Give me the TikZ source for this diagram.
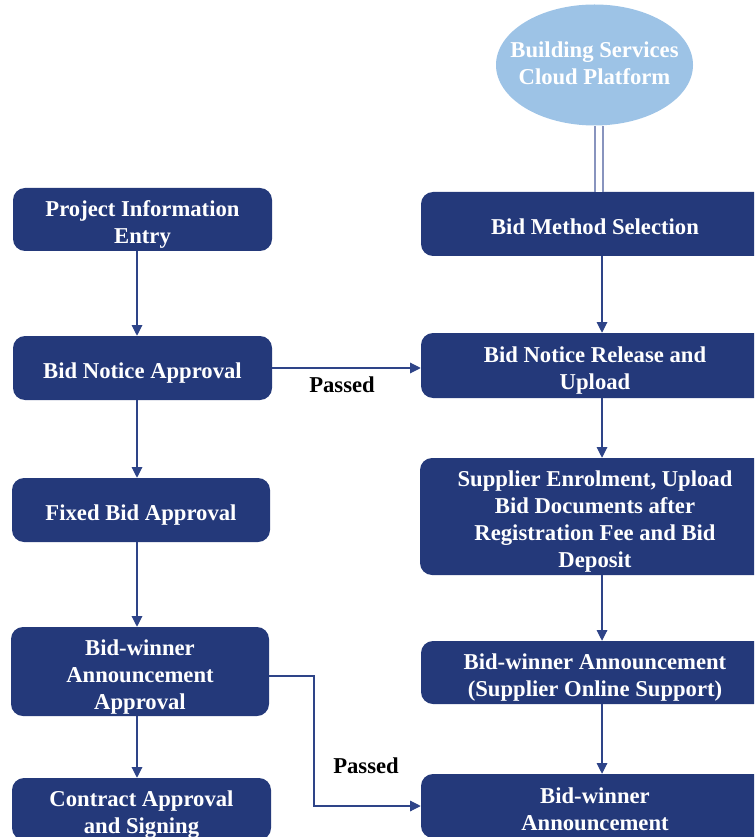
\documentclass[tikz,border=0pt]{standalone}
\usepackage{fontspec}
\setmainfont{Liberation Serif}
\usetikzlibrary{arrows.meta,shapes.geometric,calc}
\definecolor{navy}{RGB}{36,57,122}
\definecolor{skyblue}{RGB}{157,195,230}
\definecolor{linkblue}{RGB}{46,68,136}
\definecolor{dblgrey}{RGB}{136,148,190}
\newcommand{\mytopstrut}{\rule{0pt}{20pt}}
\newcommand{\mybotstrut}{\rule[-4pt]{0pt}{4pt}}
\tikzset{
  box/.style={rectangle, rounded corners=9pt, fill=navy, draw=none, text=white,
    align=center, inner xsep=2pt, inner ysep=0pt, font=\bfseries\fontsize{17}{20.25}\selectfont},
  leftbox/.style={box, minimum width=194.25pt},
  rightbox/.style={box, minimum width=261pt},
  cloud/.style={ellipse, fill=skyblue, draw=none, inner sep=0pt,
    minimum width=147.75pt, minimum height=90.75pt},
  cloudtext/.style={text=white, align=center, inner sep=0pt, font=\bfseries\fontsize{17}{20.25}\selectfont},
  link/.style={draw=linkblue, line width=0.8pt, -{Triangle[width=8pt,length=8pt]}},
  dbl/.style={draw=dblgrey, line width=0.9pt, double=white, double distance=5.1pt},
  lbl/.style={text=black, font=\bfseries\fontsize{17}{20.25}\selectfont, inner sep=0pt}
}
\begin{document}
\begin{tikzpicture}[x=0.75pt,y=-0.75pt]
\useasboundingbox (0,0) rectangle (754,837);
\clip (0,0) rectangle (754,837);
\coordinate (colL) at (137,0);
\coordinate (colR) at (602,0);
% left column
\node[leftbox, minimum height=47.25pt] (pie) at (142.5,219.5) {\mytopstrut Project Information\\Entry\mybotstrut};
\node[leftbox, minimum height=48pt] (bna) at (142.5,368) {\mytopstrut Bid Notice Approval\mybotstrut};
\node[leftbox, minimum width=193.5pt, minimum height=48pt] (fba) at (141,510) {\mytopstrut Fixed Bid Approval\mybotstrut};
\node[leftbox, minimum width=193.5pt, minimum height=66.75pt] (bwaa) at (140,671.5) {\mytopstrut Bid-winner\\Announcement\\Approval\mybotstrut};
\node[leftbox, minimum height=46.5pt] (cas) at (141.5,809) {\mytopstrut Contract Approval\\and Signing\mybotstrut};
% right column
\node[cloud] (cloud) at (594.5,65) {};
\node[cloudtext] (cloudtxt) at (594.5,63) {Building Services\\Cloud Platform};
\node[rightbox, minimum height=48pt] (bms) at (595,224) {\mytopstrut Bid Method Selection\mybotstrut};
\node[rightbox, minimum height=48.75pt] (bnr) at (595,365.5) {\mytopstrut Bid Notice Release and\\Upload\mybotstrut};
\node[rightbox, minimum width=262.5pt, minimum height=87.75pt] (sup) at (595,516.5) {\mytopstrut Supplier Enrolment, Upload\\Bid Documents after\\Registration Fee and Bid\\Deposit\mybotstrut};
\node[rightbox, minimum height=47.25pt] (bwos) at (595,672.5) {\mytopstrut Bid-winner Announcement\\(Supplier Online Support)\mybotstrut};
\node[rightbox, minimum height=48pt] (bwa) at (595,806) {\mytopstrut Bid-winner\\Announcement\mybotstrut};
% labels
\node[lbl] (p1) at (342,385) {Passed};
\node[lbl] (p2) at (366,766) {Passed};
% connectors
\draw[dbl] ([xshift=3.4pt]cloud.south) -- ([xshift=3.4pt]cloud.south |- bms.north);
\draw[link] (pie.south -| colL) -- (bna.north -| colL);
\draw[link] (bna.south -| colL) -- (fba.north -| colL);
\draw[link] (fba.south -| colL) -- (bwaa.north -| colL);
\draw[link] (bwaa.south -| colL) -- (cas.north -| colL);
\draw[link] (bms.south -| colR) -- (bnr.north -| colR);
\draw[link] (bnr.south -| colR) -- (sup.north -| colR);
\draw[link] (sup.south -| colR) -- (bwos.north -| colR);
\draw[link] (bwos.south -| colR) -- (bwa.north -| colR);
\draw[link] (bna.east) -- (bna.east -| bnr.west);
\coordinate (elbow) at (314,676);
\coordinate (entry) at (0,806);
\draw[link] (bwaa.east |- elbow) -- (elbow) |- (bwa.west |- entry);
\end{tikzpicture}
\end{document}
